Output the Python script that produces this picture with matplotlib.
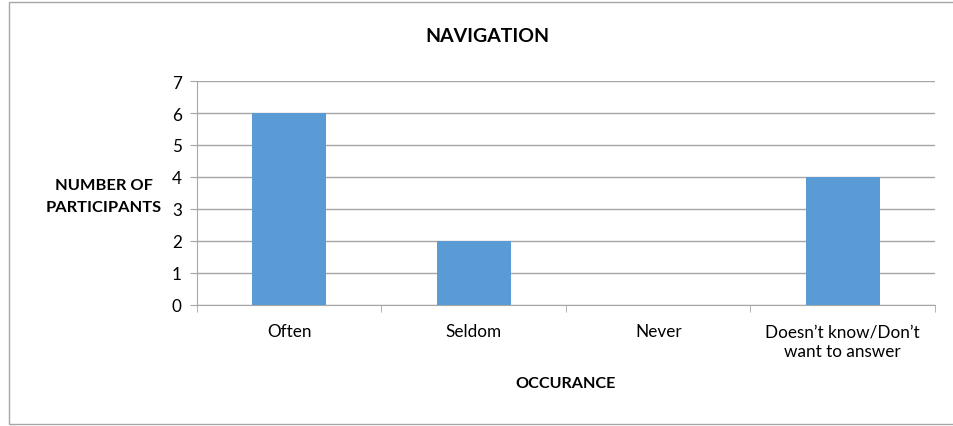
import matplotlib
matplotlib.use("Agg")
import matplotlib.pyplot as plt
from matplotlib.patches import Rectangle

categories = ["Often", "Seldom", "Never", "Doesn\u2019t know/Don\u2019t\nwant to answer"]
values = [6, 2, 0, 4]
yticks = [0, 1, 2, 3, 4, 5, 6, 7]

plt.rcParams['font.family'] = ['Lato', 'DejaVu Sans']
W, H = 954, 427
fig = plt.figure(figsize=(W/100, H/100), dpi=100)

# outer chart frame
fig.patches.append(Rectangle((9/W, 2/H), 1.2, (424-2)/H, transform=fig.transFigure,
                             fill=False, edgecolor='#a6a6a6', linewidth=1.0))

ax = fig.add_axes([197/W, 1-306/H, (935-197)/W, (306-82)/H])
x = list(range(len(categories)))
ax.bar(x, values, width=0.4, color='#5B9BD5', zorder=3)
ax.set_xlim(-0.5, len(categories)-0.5)
ax.set_ylim(0, 7)
ax.set_yticks(yticks)
ax.set_yticklabels([str(t) for t in yticks], fontsize=12.3)
ax.yaxis.grid(True, color='#a6a6a6', linewidth=1.0, zorder=0)
ax.set_xticks(x)
ax.set_xticklabels(categories, fontsize=12.3, linespacing=1.3)
ax.set_xticks([i-0.5 for i in range(len(categories)+1)], minor=True)
ax.tick_params(axis='x', which='major', length=0, pad=13)
ax.tick_params(axis='x', which='minor', length=5, color='#a6a6a6', direction='out')
ax.tick_params(axis='y', length=5, color='#a6a6a6', direction='out', pad=6)
for s in ['top', 'right']:
    ax.spines[s].set_visible(False)
ax.spines['left'].set_color('#a6a6a6')
ax.spines['bottom'].set_color('#a6a6a6')
ax.set_axisbelow(True)

fig.text(487/W, 1-37/H, "NAVIGATION", ha='center', va='center', fontsize=14, fontweight='bold')
fig.text(104/W, 1-197/H, "NUMBER OF\nPARTICIPANTS", ha='center', va='center', fontsize=11.8,
         fontweight='bold', linespacing=1.75)
fig.text(566/W, 1-384/H, "OCCURANCE", ha='center', va='center', fontsize=11.6, fontweight='bold')

fig.savefig("out.png", dpi=100)
